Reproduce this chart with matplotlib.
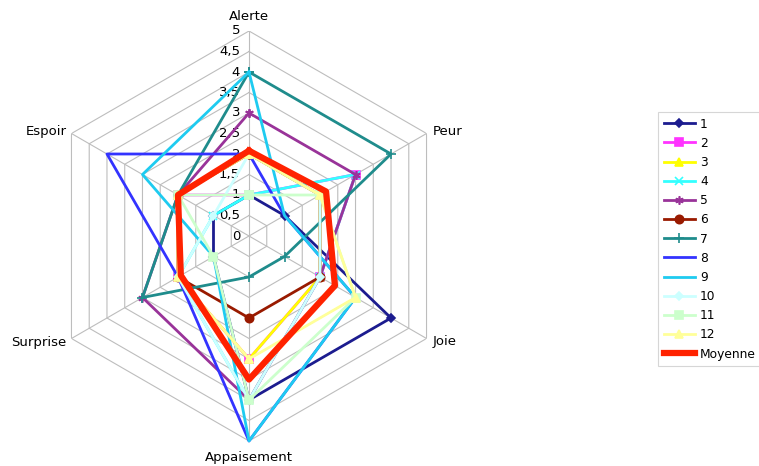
import numpy as np
import matplotlib
matplotlib.use("Agg")
import matplotlib.pyplot as plt
from matplotlib.transforms import ScaledTranslation

categories = ["Alerte", "Peur", "Joie", "Appaisement", "Surprise", "Espoir"]
s1 = [1, 1, 4, 4, 1, 1]
s2 = [1, 3, 2, 3, 2, 2]
s3 = [2, 2, 2, 3, 2, 2]
s4 = [1, 3, 2, 4, 2, 1]
s5 = [3, 3, 2, 4, 3, 2]
s6 = [2, 2, 2, 2, 2, 2]
s7 = [4, 4, 1, 1, 3, 2]
s8 = [2, 1, 3, 5, 2, 4]
s9 = [4, 1, 3, 5, 1, 3]
s10 = [2, 2, 2, 4, 2, 1]
s11 = [1, 2, 3, 4, 1, 2]
s12 = [2, 2, 3, 3, 2, 2]
moyenne = [2.08, 2.17, 2.42, 3.5, 1.92, 2.0]
series_names = ["1", "2", "3", "4", "5", "6", "7", "8", "9", "10", "11", "12", "Moyenne"]
tick_values = [0, 0.5, 1, 1.5, 2, 2.5, 3, 3.5, 4, 4.5, 5]
tick_labels = ["0", "0,5", "1", "1,5", "2", "2,5", "3", "3,5", "4", "4,5", "5"]

all_series = [s1, s2, s3, s4, s5, s6, s7, s8, s9, s10, s11, s12, moyenne]
colors = ["#1c1c8f", "#ff33ff", "#ffff00", "#33ffff", "#993399", "#991a00",
          "#1f8c8c", "#3333ff", "#1ecbf0", "#ccffff", "#ccffcc", "#ffff99", "#ff2200"]
markers = ["D", "s", "^", "x", (6, 2, 0), "o", "+", None, None, "D", "s", "^", None]
msizes = [4, 6, 6, 6, 6, 6, 7, 0, 0, 4, 6, 6, 0]

W, H, DPI = 759, 466, 100
fig = plt.figure(figsize=(W / DPI, H / DPI), dpi=DPI)
cx, cy, R = 249, 236, 205
ax = fig.add_axes([(cx - R) / W, (H - cy - R) / H, 2 * R / W, 2 * R / H], projection="polar")
ax.set_theta_offset(np.pi / 2)
ax.set_theta_direction(-1)
ax.set_ylim(0, 5)
ax.grid(False)
ax.set_xticks([])
ax.set_yticks([])
ax.spines["polar"].set_visible(False)
ax.patch.set_alpha(0)

n = len(categories)
theta = np.arange(n) * 2 * np.pi / n
theta_c = np.append(theta, theta[0])

gc = "#bdbdbd"
for lv in tick_values[1:]:
    ax.plot(theta_c, [lv] * (n + 1), color=gc, lw=0.8, zorder=1)
for t in theta:
    ax.plot([t, t], [0, 5], color=gc, lw=0.8, zorder=1)

for i, (vals, name) in enumerate(zip(all_series, series_names)):
    v = np.append(vals, vals[0])
    lw = 4.5 if name == "Moyenne" else 2.0
    ax.plot(theta_c, v, color=colors[i], lw=lw, marker=markers[i], markersize=msizes[i],
            markeredgewidth=1.2, label=name, zorder=2 + i, clip_on=False)

# radial tick labels
for val, lab in zip(tick_values, tick_labels):
    tr = ax.transData + ScaledTranslation(-9 / DPI, 0, fig.dpi_scale_trans)
    ax.text(0, val, lab, transform=tr, ha="right", va="center", fontsize=9.5, color="black")

# category labels
offs = [(0, 15, "center", "center"), (6, 2, "left", "center"), (6, -3.5, "left", "center"),
        (0, -17, "center", "center"), (-5, -3.5, "right", "center"), (-5, 2, "right", "center")]
for t, name, (dx, dy, ha, va) in zip(theta, categories, offs):
    tr = ax.transData + ScaledTranslation(dx / DPI, dy / DPI, fig.dpi_scale_trans)
    ax.text(t, 5, name, transform=tr, ha=ha, va=va, fontsize=9.5, color="black")

handles, labels = ax.get_legend_handles_labels()
leg = fig.legend(handles, labels, loc="upper left", bbox_to_anchor=(658 / W, 1 - 112 / H),
                 fontsize=8.8, frameon=True, fancybox=False, edgecolor="#cccccc",
                 handlelength=2.6, handletextpad=0.4, labelspacing=0.505,
                 borderpad=0.45, borderaxespad=0)
leg.get_frame().set_linewidth(0.8)

fig.savefig("out.png", dpi=DPI)
